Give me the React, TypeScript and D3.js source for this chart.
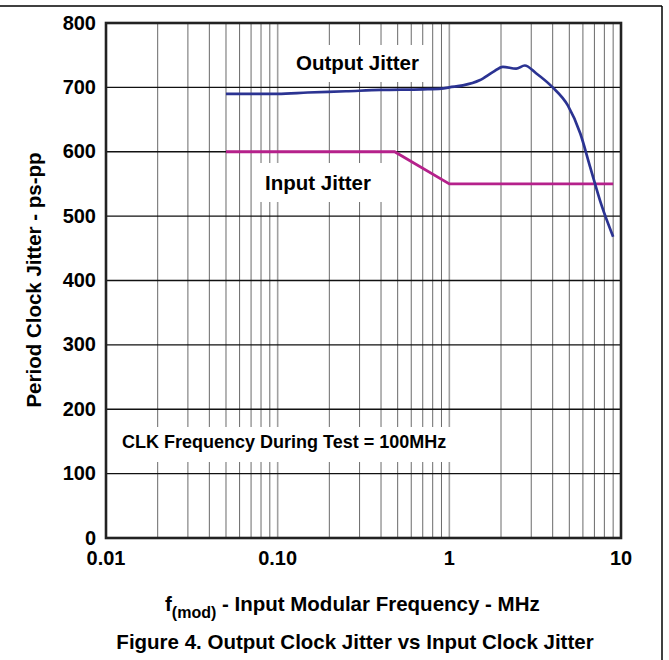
import React from "react";
import * as d3 from "d3";

const outputFreq = [0.05, 0.1, 0.15, 0.25, 0.4, 0.7, 0.9, 1.0, 1.2, 1.5, 1.8, 2.05, 2.45, 2.75, 3.2, 4.0, 4.9, 5.8, 6.6, 7.7, 9.0];
const outputJitter = [690, 690, 692, 694, 696, 697, 698, 700, 703, 711, 724, 732, 729, 734, 722, 700, 672, 628, 577, 517, 468];
const inputFreq = [0.05, 0.48, 1.0, 9.0];
const inputJitter = [600, 600, 550, 550];
const xTickValues = [0.01, 0.1, 1, 10];
const xTickLabels = ["0.01", "0.10", "1", "10"];
const yTickValues = [0, 100, 200, 300, 400, 500, 600, 700, 800];

const W = 669;
const H = 660;
const left = 106, right = 621, top = 23, bottom = 538;
const FONT = "'Liberation Sans', Arial, sans-serif";

export default function App() {
  const x = d3.scaleLog().domain([0.01, 10]).range([left, right]);
  const y = d3.scaleLinear().domain([0, 800]).range([bottom, top]);

  const minor: number[] = [];
  [0.01, 0.1, 1].forEach((d) => {
    for (let k = 2; k <= 9; k++) minor.push(d * k);
  });
  const major = [0.1, 1];

  const line = d3
    .line<[number, number]>()
    .x((d) => x(d[0]))
    .y((d) => y(d[1]));
  const smooth = d3
    .line<[number, number]>()
    .x((d) => x(d[0]))
    .y((d) => y(d[1]))
    .curve(d3.curveMonotoneX);

  const outPts = outputFreq.map((f, i) => [f, outputJitter[i]] as [number, number]);
  const inPts = inputFreq.map((f, i) => [f, inputJitter[i]] as [number, number]);

  return (
    <svg
      width={W}
      height={H}
      style={{ position: "absolute", left: 0, top: 0, background: "#fff" }}
      fontFamily={FONT}
      fontWeight="bold"
    >
      {/* outer frame */}
      <line x1={0} x2={662} y1={6} y2={6} stroke="#000" strokeWidth={1.5} />
      <line x1={662} x2={662} y1={6} y2={H} stroke="#000" strokeWidth={1.5} />

      {/* vertical grid */}
      {minor.map((f) => (
        <line key={"m" + f} x1={x(f)} x2={x(f)} y1={top} y2={bottom} stroke="#6a6a6a" strokeWidth={1} />
      ))}
      {major.map((f) => (
        <line key={"M" + f} x1={x(f)} x2={x(f)} y1={top} y2={bottom} stroke="#a0a0a0" strokeWidth={1.6} />
      ))}
      {/* horizontal grid */}
      {yTickValues.slice(1, -1).map((v) => (
        <line key={"h" + v} x1={left} x2={right} y1={y(v)} y2={y(v)} stroke="#111" strokeWidth={1.4} />
      ))}

      {/* label backgrounds */}
      <rect x={290} y={45} width={140} height={37} fill="#fff" />
      <rect x={258} y={163} width={126} height={39} fill="#fff" />
      <rect x={114} y={427} width={346} height={35} fill="#fff" />

      {/* data */}
      <path d={line(inPts) || ""} fill="none" stroke="#b5218b" strokeWidth={2.8} />
      <path d={smooth(outPts) || ""} fill="none" stroke="#2b3392" strokeWidth={2.7} strokeLinejoin="round" />

      {/* plot frame */}
      <rect x={left} y={top} width={right - left} height={bottom - top} fill="none" stroke="#222" strokeWidth={2.6} />

      {/* in-plot labels */}
      <text x={296} y={70} fontSize={20.5} fill="#000">Output Jitter</text>
      <text x={265} y={190} fontSize={20.5} fill="#000">Input Jitter</text>
      <text x={122} y={448} fontSize={18} fill="#000">CLK Frequency During Test = 100MHz</text>

      {/* y ticks */}
      {yTickValues.map((v) => (
        <text key={"yt" + v} x={96} y={y(v) + 6.5} fontSize={20} textAnchor="end" fill="#000">
          {v}
        </text>
      ))}
      {/* x ticks */}
      {xTickValues.map((v, i) => (
        <text key={"xt" + v} x={x(v)} y={565} fontSize={20} textAnchor="middle" fill="#000">
          {xTickLabels[i]}
        </text>
      ))}

      {/* y axis title */}
      <text
        transform={`translate(41, 280) rotate(-90)`}
        fontSize={20.5}
        textAnchor="middle"
        fill="#000"
      >
        Period Clock Jitter - ps-pp
      </text>

      {/* x axis title */}
      <text x={165} y={611} fontSize={20.5} fill="#000">
        f
        <tspan fontSize={16} dy={7}>(mod)</tspan>
        <tspan dy={-7}> - Input Modular Frequency - MHz</tspan>
      </text>

      {/* caption */}
      <text x={355} y={649} fontSize={20.5} textAnchor="middle" fill="#000">
        Figure 4. Output Clock Jitter vs Input Clock Jitter
      </text>
    </svg>
  );
}
